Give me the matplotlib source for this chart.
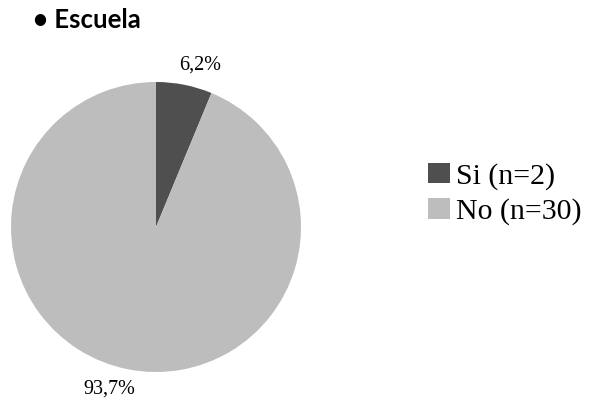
import matplotlib.pyplot as plt

categories = ['Si (n=2)', 'No (n=30)']
counts = [2, 30]
pct_labels = ['6,2%', '93,7%']
colors = ['#4f4f4f', '#bdbdbd']

fig = plt.figure(figsize=(5.89, 4.01), dpi=100)
fig.patch.set_facecolor('white')

# pie area: 290 px square
ax = fig.add_axes([11 / 589, 29 / 401, 290 / 589, 290 / 401])
wedges, texts = ax.pie(counts, colors=colors, startangle=90, counterclock=False,
                       labels=pct_labels, labeldistance=1.14,
                       textprops={'family': 'Liberation Serif', 'fontsize': 14.5},
                       wedgeprops={'linewidth': 0})
ax.set_xlim(-1, 1)
ax.set_ylim(-1, 1)
ax.set_aspect('equal')
# nudge labels a bit sideways like the original
shifts = [0.08, -0.1]
for t, dx in zip(texts, shifts):
    x, y = t.get_position()
    t.set_position((x + dx, y))
    t.set_horizontalalignment('center')
    t.set_verticalalignment('center')

fig.text(33 / 589, 1 - 20 / 401, '\u2022 Escuela', family='Lato', fontweight='bold',
         fontsize=18.5, va='center', ha='left')

fig.legend(wedges, categories, loc='center left', bbox_to_anchor=(428 / 589, 1 - 194 / 401),
           frameon=False, prop={'family': 'Liberation Serif', 'size': 21.5},
           handlelength=0.72, handleheight=0.67, handletextpad=0.22,
           labelspacing=0.3, borderpad=0, borderaxespad=0)

fig.savefig('out.png', dpi=100)
